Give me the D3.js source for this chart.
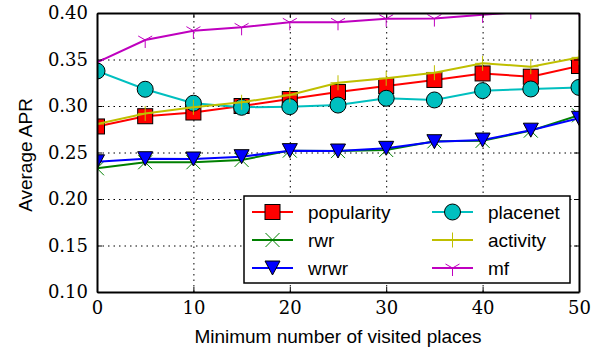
<!DOCTYPE html>
<html>
<head>
<meta charset="utf-8">
<script src="https://cdn.jsdelivr.net/npm/d3@7"></script>
<style>
  body { margin: 0; background: #fff; }
  .tick text { font-family: 'DejaVu Serif', serif; font-size: 18px; fill: #000; }
  .label { font-family: 'Liberation Sans', Arial, sans-serif; font-size: 19px; fill: #000; }
  .grid line { stroke: #000; stroke-width: 1; stroke-dasharray: 1.5,4; }
  .grid path { display: none; }
</style>
</head>
<body>
<svg width="603" height="349"></svg>
<script>
// x values: minimum number of visited places
const xValues = [0, 5, 10, 15, 20, 25, 30, 35, 40, 45, 50]

// series values
const popularity = [0.278, 0.289, 0.293, 0.300, 0.3075, 0.315, 0.3215, 0.328, 0.335, 0.3315, 0.343]
const rwr = [0.233, 0.2395, 0.2395, 0.242, 0.252, 0.2515, 0.2527, 0.262, 0.2625, 0.2735, 0.290]
const wrwr = [0.240, 0.2433, 0.243, 0.2455, 0.252, 0.2516, 0.2545, 0.2616, 0.2634, 0.274, 0.2868]
const placenet = [0.3376, 0.318, 0.303, 0.2986, 0.2993, 0.301, 0.3083, 0.3065, 0.3165, 0.3183, 0.320]
const activity = [0.2806, 0.292, 0.2986, 0.304, 0.3118, 0.325, 0.3298, 0.3358, 0.3459, 0.3423, 0.3523]
const mf = [0.347, 0.371, 0.381, 0.3846, 0.390, 0.390, 0.3939, 0.394, 0.398, 0.402, 0.405]

const seriesNames = ['popularity', 'rwr', 'wrwr', 'placenet', 'activity', 'mf']
const seriesValues = [popularity, rwr, wrwr, placenet, activity, mf]

const xTicks = [0, 10, 20, 30, 40, 50]
const yTicks = [0.10, 0.15, 0.20, 0.25, 0.30, 0.35, 0.40]

// styles per series
const styles = {
  popularity: { color: '#ff0000', marker: 'square' },
  rwr: { color: '#008000', marker: 'x' },
  wrwr: { color: '#0000ff', marker: 'tridown' },
  placenet: { color: '#00bfbf', marker: 'circle' },
  activity: { color: '#bfbf00', marker: 'plus' },
  mf: { color: '#bf00bf', marker: 'tri' }
}

const plotLeft = 97, plotRight = 579, plotTop = 13, plotBottom = 292
const width = plotRight - plotLeft
const height = plotBottom - plotTop

const svg = d3.select('svg')

const xScale = d3.scaleLinear().domain([0, 50]).range([0, width])
const yScale = d3.scaleLinear().domain([0.10, 0.40]).range([height, 0])

const chart = svg.append('g').attr('transform', `translate(${plotLeft}, ${plotTop})`)

svg.append('defs').append('clipPath').attr('id', 'clip')
  .append('rect').attr('width', width).attr('height', height)

// grid
chart.append('g')
  .attr('class', 'grid')
  .attr('transform', `translate(0, ${height})`)
  .call(d3.axisBottom(xScale).tickValues(xTicks.slice(1, -1)).tickSize(-height).tickFormat(''))
chart.append('g')
  .attr('class', 'grid')
  .call(d3.axisLeft(yScale).tickValues(yTicks.slice(1, -1)).tickSize(-width).tickFormat(''))

// draw a marker into a group
function drawMarker(g, type, color) {
  if (type === 'square') {
    g.append('rect').attr('x', -7.5).attr('y', -7.5).attr('width', 15).attr('height', 15)
      .attr('fill', color).attr('stroke', '#000').attr('stroke-width', 1)
  } else if (type === 'circle') {
    g.append('circle').attr('r', 8)
      .attr('fill', color).attr('stroke', '#000').attr('stroke-width', 1)
  } else if (type === 'tridown') {
    g.append('path').attr('d', 'M-7.5,-7L7.5,-7L0,7Z')
      .attr('fill', color).attr('stroke', '#000').attr('stroke-width', 1)
  } else if (type === 'x') {
    g.append('path').attr('d', 'M-7,-7L7,7M-7,7L7,-7')
      .attr('stroke', color).attr('stroke-width', 1)
  } else if (type === 'plus') {
    g.append('path').attr('d', 'M-7.5,0L7.5,0M0,-7.5L0,7.5')
      .attr('stroke', color).attr('stroke-width', 1)
  } else if (type === 'tri') {
    g.append('path').attr('d', 'M0,0L0,8M0,0L-7,-4M0,0L7,-4')
      .attr('stroke', color).attr('stroke-width', 1).attr('fill', 'none')
  }
}

const plot = chart.append('g').attr('clip-path', 'url(#clip)')

const line = d3.line()
  .x((d, i) => xScale(xValues[i]))
  .y(d => yScale(d))

seriesNames.forEach((name, s) => {
  const st = styles[name]
  const g = plot.append('g')
  g.append('path')
    .datum(seriesValues[s])
    .attr('d', line)
    .attr('fill', 'none')
    .attr('stroke', st.color)
    .attr('stroke-width', 2)
  g.selectAll('g.m')
    .data(seriesValues[s])
    .enter()
    .append('g')
    .attr('class', 'm')
    .attr('transform', (d, i) => `translate(${xScale(xValues[i])}, ${yScale(d)})`)
    .each(function () { drawMarker(d3.select(this), st.marker, st.color) })
})

// axes with inward ticks
const axisStyle = g => {
  g.select('.domain').attr('stroke', '#000').attr('stroke-width', 2)
  g.selectAll('.tick line').attr('stroke', '#000').attr('stroke-width', 1)
}
chart.append('g')
  .attr('transform', `translate(0, ${height})`)
  .call(d3.axisBottom(xScale).tickValues(xTicks).tickSizeInner(-5).tickSizeOuter(0).tickPadding(9).tickFormat(d3.format('d')))
  .call(axisStyle)
chart.append('g')
  .call(d3.axisLeft(yScale).tickValues(yTicks).tickSizeInner(-5).tickSizeOuter(0).tickPadding(9).tickFormat(d3.format('.2f')))
  .call(axisStyle)
chart.append('g')
  .call(d3.axisTop(xScale).tickValues(xTicks).tickSizeInner(-5).tickSizeOuter(0).tickFormat(''))
  .call(axisStyle)
chart.append('g')
  .attr('transform', `translate(${width}, 0)`)
  .call(d3.axisRight(yScale).tickValues(yTicks).tickSizeInner(-5).tickSizeOuter(0).tickFormat(''))
  .call(axisStyle)

// axis titles
svg.append('text')
  .attr('class', 'label')
  .attr('x', plotLeft + width / 2)
  .attr('y', 343)
  .attr('text-anchor', 'middle')
  .text('Minimum number of visited places')

svg.append('text')
  .attr('class', 'label')
  .attr('transform', `translate(32, 155) rotate(-90)`)
  .attr('text-anchor', 'middle')
  .text('Average APR')

// legend
const legend = svg.append('g').attr('transform', 'translate(244, 196)')
legend.append('rect')
  .attr('width', 326).attr('height', 87)
  .attr('fill', '#fff').attr('stroke', '#000').attr('stroke-width', 1.5)

seriesNames.forEach((name, s) => {
  const st = styles[name]
  const col = Math.floor(s / 3), row = s % 3
  const item = legend.append('g')
    .attr('transform', `translate(${8 + col * 180}, ${16 + row * 28})`)
  item.append('line')
    .attr('x1', 0).attr('x2', 41)
    .attr('stroke', st.color).attr('stroke-width', 2)
  drawMarker(item.append('g').attr('transform', 'translate(20.5, 0)'), st.marker, st.color)
  item.append('text')
    .attr('class', 'label')
    .attr('x', 56)
    .attr('dy', '0.35em')
    .text(name)
})
</script>
</body>
</html>
